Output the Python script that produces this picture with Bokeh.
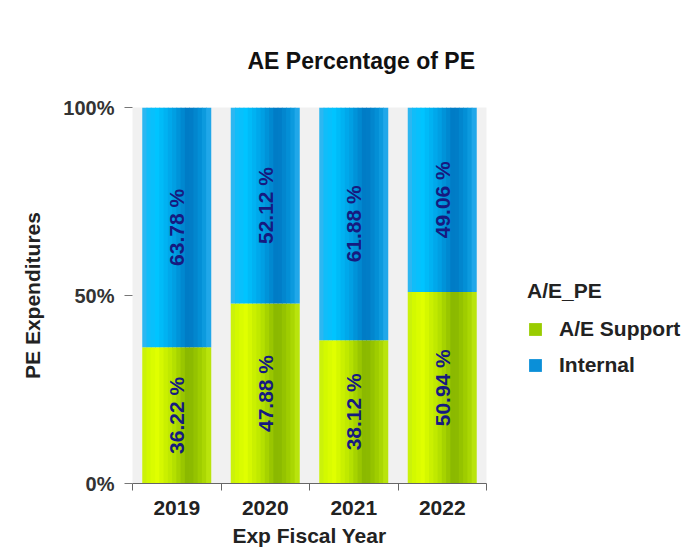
import math
from bokeh.plotting import figure
from bokeh.models import (ColumnDataSource, Range1d, FixedTicker, Legend, LegendItem)
from bokeh.transform import dodge
from bokeh.core.properties import value
from bokeh.embed import file_html
from bokeh.resources import INLINE

# ---------------- data ----------------
years = ["2019", "2020", "2021", "2022"]
ae_support = [36.22, 47.88, 38.12, 50.94]
internal = [63.78, 52.12, 61.88, 49.06]
series_names = ["A/E Support", "Internal"]
y_ticks = [0, 50, 100]
y_tick_labels = ["0%", "50%", "100%"]

FONT = "Liberation Sans"
BAR_W = 0.77
n = len(years)
xpos = [i + 0.5 for i in range(n)]  # category centres on a 0..n axis

src = ColumnDataSource(dict(
    year=years,
    x=xpos,
    ae=ae_support,
    internal=internal,
    ae_mid=[v / 2 for v in ae_support],
    int_mid=[a + b / 2 for a, b in zip(ae_support, internal)],
    ae_lbl=[f"{v:.2f} %" for v in ae_support],
    int_lbl=[f"{v:.2f} %" for v in internal],
))

# ---------------- gradient styles ----------------
blue_stops = [(0.0, "#3db4ec"), (0.08, "#12bcf8"), (0.22, "#00c4ff"),
              (0.45, "#00a2e6"), (0.68, "#0078c2"), (0.88, "#0494da"), (1.0, "#2aaeee")]
green_stops = [(0.0, "#c6ee10"), (0.08, "#d2f800"), (0.22, "#e0ff00"),
               (0.45, "#b8e400"), (0.68, "#86b400"), (0.88, "#a4d200"), (1.0, "#c0ea10")]


def interp(stops, t):
    for (t0, c0), (t1, c1) in zip(stops[:-1], stops[1:]):
        if t0 <= t <= t1:
            f = (t - t0) / (t1 - t0) if t1 > t0 else 0
            a = [int(c0[i:i + 2], 16) for i in (1, 3, 5)]
            b = [int(c1[i:i + 2], 16) for i in (1, 3, 5)]
            return "#" + "".join(f"{round(x + (y - x) * f):02x}" for x, y in zip(a, b))
    return stops[-1][1]


p = figure(frame_width=354, frame_height=376,
           x_range=Range1d(0, n), y_range=Range1d(0, 100),
           output_backend="svg", toolbar_location=None,
           min_border_left=132, min_border_right=204,
           min_border_top=107, min_border_bottom=65)

p.background_fill_color = "#f1f1f1"
p.border_fill_color = "white"
p.outline_line_color = None
p.xgrid.visible = False
p.ygrid.visible = False

# gradient bars: thin strips
N = 16
sw = BAR_W / N
for i in range(N):
    t = (i + 0.5) / N
    off = -BAR_W / 2 + sw * (i + 0.5)
    p.vbar_stack(["ae", "internal"], x=dodge("x", off), width=sw * 1.2, source=src,
                 color=[interp(green_stops, t), interp(blue_stops, t)],
                 line_color=None)

# legend-only renderers (zero width)
leg_r = p.vbar_stack(["ae", "internal"], x="x", width=0, source=src,
                     color=["#99cc00", "#0a8fd8"], line_color=None)

# labels
for ycol, tcol in (("ae_mid", "ae_lbl"), ("int_mid", "int_lbl")):
    p.text(x="x", y=ycol, text=tcol, source=src, angle=math.pi / 2,
           text_align="center", text_baseline="middle",
           text_font=value(FONT), text_font_style="bold",
           text_font_size="21px", text_color="#161a80")

# y axis
ya = p.yaxis[0]
ya.ticker = FixedTicker(ticks=y_ticks)
ya.major_label_overrides = {t: l for t, l in zip(y_ticks, y_tick_labels)}
ya.axis_line_color = None
ya.major_tick_out = 8
ya.major_tick_in = 0
ya.major_tick_line_color = "#777777"
ya.minor_tick_line_color = None
ya.major_label_standoff = 10
ya.major_label_text_font = FONT
ya.major_label_text_font_style = "bold"
ya.major_label_text_font_size = "20px"
ya.major_label_text_color = "#333333"
ya.axis_label = "PE Expenditures"
ya.axis_label_text_font = FONT
ya.axis_label_text_font_style = "bold"
ya.axis_label_text_font_size = "21px"
ya.axis_label_text_color = "#222222"
ya.axis_label_standoff = 16

# x axis (labels at category centres, ticks at boundaries)
xa = p.xaxis[0]
xa.ticker = FixedTicker(ticks=xpos, minor_ticks=list(range(n + 1)))
xa.major_label_overrides = {x: y for x, y in zip(xpos, years)}
xa.axis_line_color = "#666666"
xa.major_tick_line_color = None
xa.major_tick_out = 0
xa.major_tick_in = 0
xa.minor_tick_out = 7
xa.minor_tick_in = 0
xa.minor_tick_line_color = "#666666"
xa.major_label_standoff = 10
xa.major_label_text_font = FONT
xa.major_label_text_font_style = "bold"
xa.major_label_text_font_size = "21px"
xa.major_label_text_color = "#222222"
xa.axis_label = "Exp Fiscal Year"
xa.axis_label_text_font = FONT
xa.axis_label_text_font_style = "bold"
xa.axis_label_text_font_size = "21px"
xa.axis_label_text_color = "#222222"
xa.axis_label_standoff = 6

# title
p.title.text = "AE Percentage of PE"
p.title.text_font = FONT
p.title.text_font_style = "bold"
p.title.text_font_size = "23px"
p.title.text_color = "#111111"
p.title.align = "left"
p.title.offset = 115
p.title.standoff = 68

# legend
legend = Legend(items=[LegendItem(label=series_names[0], renderers=[leg_r[0]]),
                       LegendItem(label=series_names[1], renderers=[leg_r[1]])],
                title="A/E_PE", location=(41, 106))
legend.title_text_font = FONT
legend.title_text_font_style = "bold"
legend.title_text_font_size = "21px"
legend.title_text_color = "#222222"
legend.title_standoff = 14
legend.label_text_font = FONT
legend.label_text_font_style = "bold"
legend.label_text_font_size = "21px"
legend.label_text_color = "#222222"
legend.glyph_width = 16
legend.glyph_height = 16
legend.label_height = 24
legend.label_standoff = 16
legend.spacing = 12
legend.padding = 0
legend.margin = 0
legend.border_line_color = None
legend.background_fill_alpha = 0
p.add_layout(legend, "right")

open("out.html", "w").write(file_html(p, INLINE))
